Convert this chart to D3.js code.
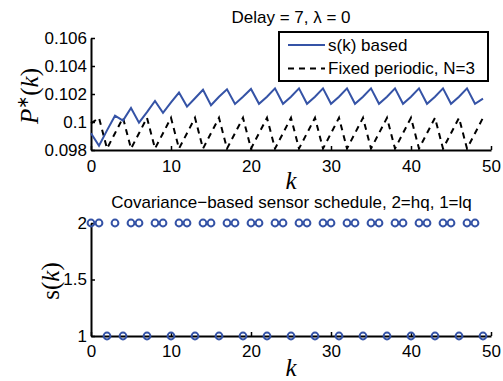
<!DOCTYPE html>
<html><head><meta charset="utf-8">
<script src="https://cdn.jsdelivr.net/npm/d3@7"></script>
<style>
body{margin:0;background:#fff;}
svg{display:block;}
text{font-family:"Liberation Sans",Arial,Helvetica,sans-serif;}
.math{font-family:"Liberation Serif","Times New Roman",serif;}
</style></head><body>
<svg id="c" width="503" height="381"></svg>
<script>
// ---- data ----
const k = d3.range(0, 50);
const sBased = [0.0992,0.0983,0.0994,0.10045,0.1001,0.1010,0.09995,0.1007,0.1015,0.10066,
  0.1014,0.1021,0.1011,0.1017,0.1023,0.1012,0.1018,0.10233,0.10129,0.1018,
  0.10236,0.1013,0.1018,0.1024,0.1013,0.1018,0.1024,0.1013,0.1018,0.1024,
  0.1013,0.1018,0.1024,0.1013,0.1018,0.1024,0.1013,0.1018,0.1024,0.1013,
  0.1018,0.1024,0.1013,0.1018,0.1024,0.1013,0.1018,0.1024,0.1013,0.10167];
const fixedPeriodic = [0.0999,0.1003,0.0981,0.0992,0.1003,0.0981,0.0992,0.1003,0.0981,0.0992,
  0.1003,0.0981,0.0992,0.1003,0.0981,0.0992,0.1003,0.0981,0.0992,0.1003,
  0.0981,0.0992,0.1003,0.0981,0.0992,0.1003,0.0981,0.0992,0.1003,0.0981,
  0.0992,0.1003,0.0981,0.0992,0.1003,0.0981,0.0992,0.1003,0.0981,0.0992,
  0.1003,0.0981,0.0992,0.1003,0.0981,0.0992,0.1003,0.0981,0.0992,0.1003];
const schedule = [2,2,1,2,1,2,2,1,2,2,1,2,2,1,2,2,1,2,2,1,
  2,2,1,2,2,1,2,2,1,2,2,1,2,2,1,2,2,1,2,2,
  1,2,2,1,2,2,1,2,2,1];
const xTicks = [0,10,20,30,40,50];
const yTicksTop = [0.098,0.1,0.102,0.104,0.106];
const yTickLabelsTop = ["0.098","0.1","0.102","0.104","0.106"];
const yTicksBottom = [1,1.5,2];
const yTickLabelsBottom = ["1","1.5","2"];
const legendLabels = ["s(k) based","Fixed periodic, N=3"];
const titleTop = "Delay = 7, \u03bb = 0";
const titleBottom = "Covariance\u2212based sensor schedule, 2=hq, 1=lq";

const blue = "#3553a6";
const svg = d3.select("#c");
const FS = 17;

// ---- scales ----
const x = d3.scaleLinear().domain([0,50]).range([91,491]);
const yT = d3.scaleLinear().domain([0.098,0.106]).range([150,38]);
const yB = d3.scaleLinear().domain([1,2]).range([336,223]);

function styleAxis(g){
  g.select(".domain").attr("stroke","#000").attr("stroke-width",2);
  g.selectAll(".tick line").attr("stroke","#000").attr("stroke-width",1.5);
  g.selectAll(".tick text").attr("font-size",FS).attr("fill","#000")
    .attr("font-family","Liberation Sans, Arial, sans-serif");
}

// ---- top plot ----
const gTop = svg.append("g");
gTop.append("g").attr("transform","translate(0,150)")
  .call(d3.axisBottom(x).tickValues(xTicks).tickSize(-4).tickSizeOuter(0).tickPadding(10))
  .call(styleAxis);
gTop.append("g").attr("transform","translate(91,0)")
  .call(d3.axisLeft(yT).tickValues(yTicksTop).tickFormat((d,i)=>yTickLabelsTop[i]).tickSize(-4).tickSizeOuter(0).tickPadding(4))
  .call(styleAxis);

gTop.append("path").datum(fixedPeriodic)
  .attr("d", d3.line().x((d,i)=>x(k[i])).y(d=>yT(d)))
  .attr("fill","none").attr("stroke","#000").attr("stroke-width",2).attr("stroke-dasharray","6,5");
gTop.append("path").datum(sBased)
  .attr("d", d3.line().x((d,i)=>x(k[i])).y(d=>yT(d)))
  .attr("fill","none").attr("stroke",blue).attr("stroke-width",2);

gTop.append("text").attr("x",291).attr("y",23).attr("text-anchor","middle")
  .attr("font-size",FS).text(titleTop);

// legend
const lg = gTop.append("g");
lg.append("rect").attr("x",279).attr("y",32).attr("width",209).attr("height",49)
  .attr("fill","#fff").attr("stroke","#000").attr("stroke-width",2);
lg.append("line").attr("x1",288).attr("x2",325).attr("y1",45).attr("y2",45)
  .attr("stroke",blue).attr("stroke-width",2);
lg.append("line").attr("x1",288).attr("x2",325).attr("y1",68.5).attr("y2",68.5)
  .attr("stroke","#000").attr("stroke-width",2).attr("stroke-dasharray","6,5");
lg.append("text").attr("x",328).attr("y",50.5).attr("font-size",FS).text(legendLabels[0]);
lg.append("text").attr("x",328).attr("y",74).attr("font-size",FS).text(legendLabels[1]);

// y label P*(k)
const yl = gTop.append("text").attr("class","math")
  .attr("transform","translate(38,96) rotate(-90)").attr("text-anchor","middle")
  .attr("font-size",25);
yl.append("tspan").attr("font-style","italic").text("P");
yl.append("tspan").attr("font-size",16).attr("dy",-10).text("\u2217");
yl.append("tspan").attr("dy",10).text("(");
yl.append("tspan").attr("font-style","italic").text("k");
yl.append("tspan").text(")");

gTop.append("text").attr("class","math").attr("x",291).attr("y",189)
  .attr("text-anchor","middle").attr("font-size",25).attr("font-style","italic").text("k");

// ---- bottom plot ----
const gBot = svg.append("g");
gBot.append("g").attr("transform","translate(0,336)")
  .call(d3.axisBottom(x).tickValues(xTicks).tickSize(-4).tickSizeOuter(0).tickPadding(9))
  .call(styleAxis);
gBot.append("g").attr("transform","translate(91,0)")
  .call(d3.axisLeft(yB).tickValues(yTicksBottom).tickFormat((d,i)=>yTickLabelsBottom[i]).tickSize(-4).tickSizeOuter(0).tickPadding(4))
  .call(styleAxis);

gBot.selectAll("circle").data(schedule).join("circle")
  .attr("cx",(d,i)=>x(k[i])).attr("cy",d=>yB(d)).attr("r",3.4)
  .attr("fill","none").attr("stroke",blue).attr("stroke-width",2);

gBot.append("text").attr("x",291.5).attr("y",208).attr("text-anchor","middle")
  .attr("font-size",FS).text(titleBottom);

const yl2 = gBot.append("text").attr("class","math")
  .attr("transform","translate(59,281) rotate(-90)").attr("text-anchor","middle")
  .attr("font-size",25);
yl2.append("tspan").text("s");
yl2.append("tspan").text("(");
yl2.append("tspan").attr("font-style","italic").text("k");
yl2.append("tspan").text(")");

gBot.append("text").attr("class","math").attr("x",291).attr("y",376)
  .attr("text-anchor","middle").attr("font-size",25).attr("font-style","italic").text("k");
</script>
</body></html>
